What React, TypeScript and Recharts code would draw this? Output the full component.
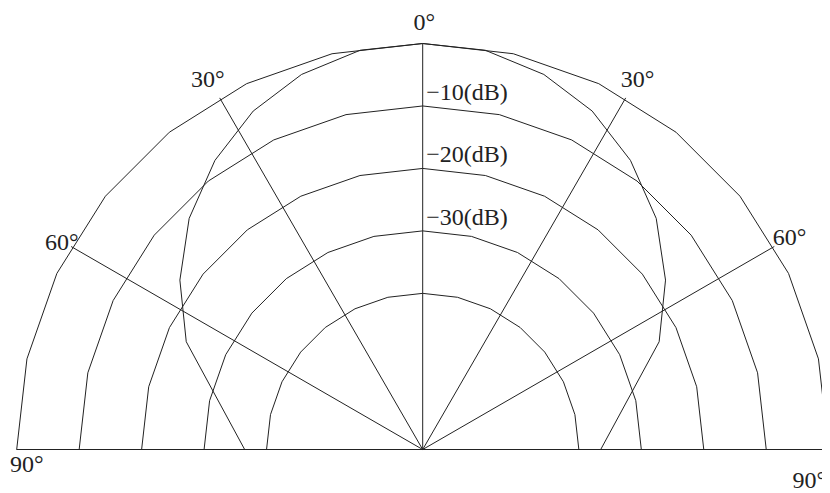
import React from 'react';
import { RadarChart, Radar, PolarGrid, PolarAngleAxis, PolarRadiusAxis } from 'recharts';

// Radiation pattern (angle in degrees from broadside, gain in dB)
const patternAngles = [-90, -65.5, -55.1, -45.3, -35.7, -26.6, -17.9, -8.9, 0, 8.9, 17.9, 26.6, 35.7, 45.3, 55.1, 65.5, 90];
const patternGain = [-36.5, -23.4, -17.6, -12.4, -8.0, -4.4, -1.9, -0.3, 0, -0.3, -1.9, -4.4, -8.0, -12.4, -17.6, -23.4, -36.5];

// Polygon grid vertices (degrees)
const ringAngles = [-90, -77.1, -64.3, -51.4, -38.6, -25.7, -12.9, 0, 12.9, 25.7, 38.6, 51.4, 64.3, 77.1, 90];

// Spokes and their labels
const spokeAngles = [-90, -60, -30, 0, 30, 60, 90];
const spokeLabels = ['90°', '60°', '30°', '0°', '30°', '60°', '90°'];

// Level rings (dB) and their labels
const ringLevels = [-40, -30, -20, -10, 0];
const ringLabels = ['', '−30(dB)', '−20(dB)', '−10(dB)', ''];

const data = patternAngles.map((angle, i) => ({ angle, gain: patternGain[i] }));

const FONT = '"Liberation Serif", "DejaVu Serif", serif';
const INK = '#222';
const FONT_SIZE = 24;

const anglePlacement: Record<string, { anchor: 'start' | 'middle' | 'end'; dx: number; dy: number }> = {
  '-90': { anchor: 'start', dx: 1.3, dy: 22.5 },
  '-60': { anchor: 'end', dx: 14.5, dy: 7.5 },
  '-30': { anchor: 'end', dx: 8.8, dy: -3.7 },
  '0': { anchor: 'middle', dx: 1.5, dy: -5.5 },
  '30': { anchor: 'start', dx: -9, dy: -3.5 },
  '60': { anchor: 'start', dx: -8.5, dy: 2.5 },
  '90': { anchor: 'end', dx: -10.5, dy: 38.5 },
};

function AngleTick(props: any) {
  const { x, y, payload } = props;
  const v = payload.value;
  const idx = spokeAngles.indexOf(v);
  const p = anglePlacement[String(v)];
  if (idx < 0 || !p) return <g />;
  return (
    <text x={x + p.dx} y={y + p.dy} textAnchor={p.anchor} fontFamily={FONT} fontSize={FONT_SIZE} fill={INK}>
      {spokeLabels[idx]}
    </text>
  );
}

function RadiusTick(props: any) {
  const { x, y, payload } = props;
  const label = ringLabels[ringLevels.indexOf(payload.value)];
  if (!label) return <g />;
  return (
    <text x={x + 3.5} y={y - 6} textAnchor="start" fontFamily={FONT} fontSize={FONT_SIZE} fill={INK}>
      {label}
    </text>
  );
}

export default function App() {
  return (
    <RadarChart
      width={822}
      height={485}
      data={data}
      cx={414.7}
      cy={441.5}
      innerRadius={0}
      outerRadius={406}
      startAngle={180}
      endAngle={0}
      margin={{ top: 0, right: 0, bottom: 0, left: 0 }}
    >
      <PolarAngleAxis
        angleAxisId="ring"
        dataKey="angle"
        type="number"
        scale="linear"
        domain={[-90, 90]}
        ticks={ringAngles}
        tick={false}
        tickLine={false}
        axisLine={false}
      />
      <PolarAngleAxis
        angleAxisId={0}
        dataKey="angle"
        type="number"
        scale="linear"
        domain={[-90, 90]}
        ticks={spokeAngles}
        tick={<AngleTick />}
        tickLine={false}
        axisLine={false}
        tickSize={8}
      />
      <PolarRadiusAxis
        radiusAxisId={0}
        angle={90}
        type="number"
        domain={[-65, 0]}
        allowDataOverflow
        ticks={ringLevels}
        tick={<RadiusTick />}
        axisLine={false}
      />
      <PolarGrid
        angleAxisId="ring"
        radiusAxisId={0}
        gridType="polygon"
        radialLines={false}
        stroke={INK}
        strokeOpacity={1}
      />
      <PolarGrid
        angleAxisId={0}
        radiusAxisId={0}
        gridType="polygon"
        polarRadius={[]}
        radialLines
        stroke={INK}
        strokeOpacity={1}
      />
      <Radar
        angleAxisId={0}
        radiusAxisId={0}
        dataKey="gain"
        stroke={INK}
        strokeWidth={1}
        fill="none"
        fillOpacity={0}
        dot={false}
        isAnimationActive={false}
      />
    </RadarChart>
  );
}
